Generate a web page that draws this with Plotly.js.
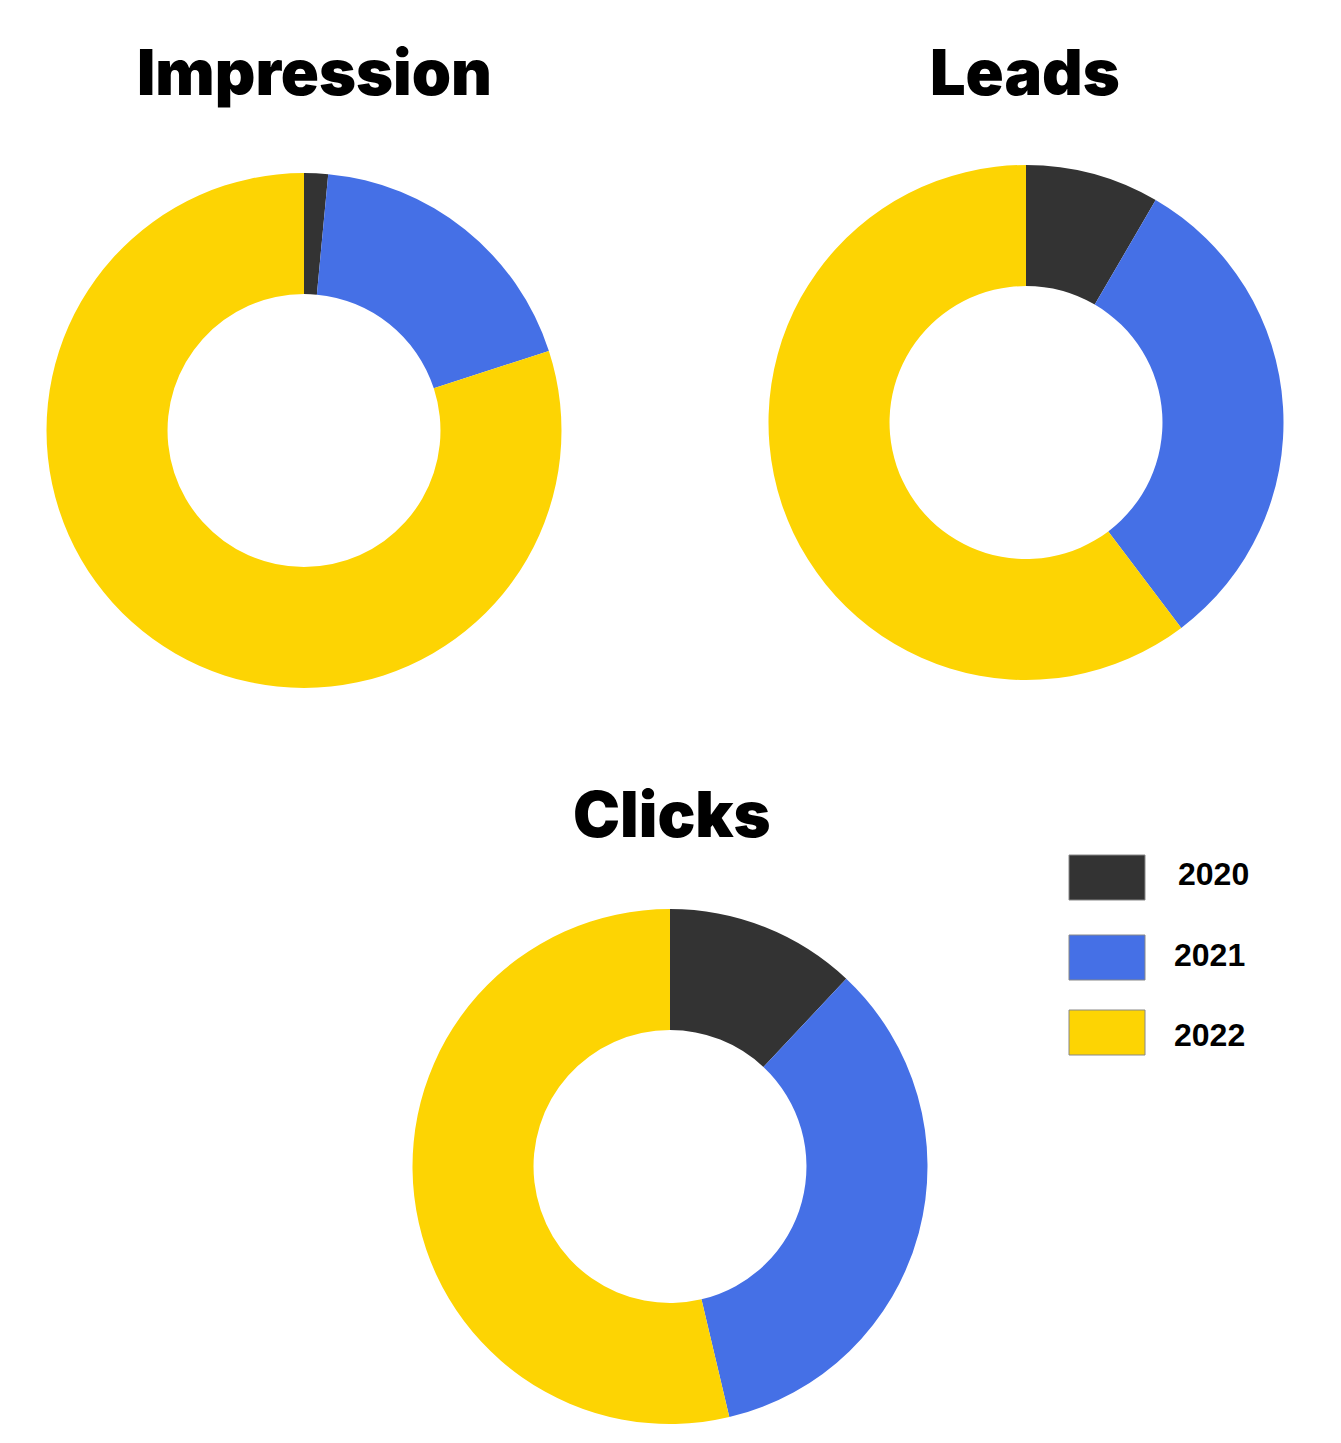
<!DOCTYPE html>
<html>
<head>
<meta charset="utf-8">
<script src="https://cdn.plot.ly/plotly-3.0.1.min.js"></script>
<style>html,body{margin:0;padding:0;background:#fff;}#chart{width:1341px;height:1443px;}</style>
</head>
<body>
<div id="chart"></div>
<script>
// Data
const years = ["2020", "2021", "2022"];
const impressionValues = [1.5, 18.5, 80.0];
const leadsValues = [8.4, 31.3, 60.3];
const clicksValues = [12.0, 34.3, 53.7];
const chartTitles = ["Impression", "Leads", "Clicks"];
const colors = ["#333333", "#4570E6", "#FDD403"];

const W = 1341, H = 1443;
// pie layout in pixels: center x, center y (from top), radius
const pies = [
  {values: impressionValues, cx: 304, cy: 430.5, r: 257.5, tx: 314, ty: 72},
  {values: leadsValues, cx: 1026, cy: 422.5, r: 257.5, tx: 1025, ty: 72},
  {values: clicksValues, cx: 670, cy: 1166.5, r: 257.5, tx: 672, ty: 814}
];

const traces = pies.map((p, i) => ({
  type: "pie",
  name: chartTitles[i],
  labels: years,
  values: p.values,
  hole: 0.53,
  sort: false,
  direction: "clockwise",
  rotation: 0,
  textinfo: "none",
  hoverinfo: "label+percent",
  showlegend: false,
  marker: {colors: colors, line: {width: 0}},
  domain: {
    x: [(p.cx - p.r) / W, (p.cx + p.r) / W],
    y: [(H - p.cy - p.r) / H, (H - p.cy + p.r) / H]
  }
}));

const annotations = pies.map((p, i) => ({
  text: chartTitles[i],
  xref: "paper", yref: "paper",
  x: p.tx / W, y: 1 - p.ty / H,
  xanchor: "center", yanchor: "middle",
  showarrow: false,
  font: {family: "Inter, 'DejaVu Sans', sans-serif", size: 63, weight: 900, color: "#000"}
}));

const shapes = [];
const legTop = [855, 935, 1010];
const legTextY = [874, 955, 1035];
years.forEach((y, i) => {
  shapes.push({
    type: "rect", xref: "paper", yref: "paper",
    x0: 1069 / W, x1: 1145 / W,
    y0: 1 - (legTop[i] + 45) / H, y1: 1 - legTop[i] / H,
    fillcolor: colors[i], line: {color: "#888888", width: 1}
  });
  annotations.push({
    text: y, xref: "paper", yref: "paper",
    x: (i === 0 ? 1176 : 1172) / W, y: 1 - legTextY[i] / H,
    xanchor: "left", yanchor: "middle", showarrow: false,
    font: {family: "'Liberation Sans', Arial, sans-serif", size: 32, weight: 700, color: "#000"}
  });
});

const layout = {
  width: W, height: H,
  margin: {l: 0, r: 0, t: 0, b: 0},
  paper_bgcolor: "#ffffff",
  plot_bgcolor: "#ffffff",
  showlegend: false,
  annotations: annotations,
  shapes: shapes
};

Plotly.newPlot("chart", traces, layout, {displayModeBar: false, staticPlot: true});
</script>
</body>
</html>
